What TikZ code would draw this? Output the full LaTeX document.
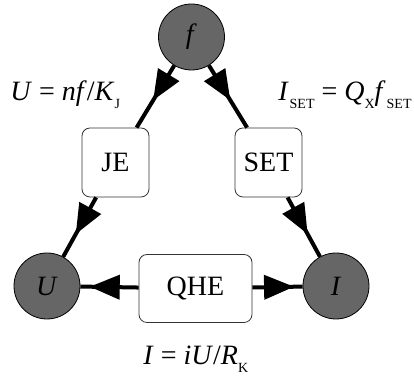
\documentclass[tikz,border=0pt]{standalone}
\usepackage{fontspec}
\setmainfont{Liberation Serif}
\usetikzlibrary{arrows.meta,decorations.markings}
\newcommand{\lowsub}[1]{\raisebox{-4pt}{\fontsize{7}{8}\selectfont #1}}
\tikzset{
  qty/.style={circle, draw, fill=black!60, minimum size=33pt, inner sep=0pt},
  effect/.style={draw=black!80, rounded corners=4pt, fill=white, minimum width=33.5pt, minimum height=34.5pt},
  link/.style={line width=2pt, postaction={decorate},
    decoration={markings, mark=at position #1 with {\arrow{Triangle[length=15pt,width=12pt]}}}},
}
\begin{document}
\begin{tikzpicture}[x=0.5pt, y=-0.5pt, every node/.style={font=\fontsize{14}{16}\selectfont}]
    \useasboundingbox (0,0) rectangle (414,383);
    % quantities
    \node[qty] (f) at (191.5,37) {\textit{f}};
    \node[qty] (U) at (47,286) {\textit{U}};
    \node[qty] (I) at (336,286) {\textit{I}};
    % effects
    \node[effect] (je) at (115.5,162.5) {JE};
    \node[effect] (set) at (268.5,162.5) {SET};
    \node[effect, minimum width=56.5pt, minimum height=34pt] (qhe) at (195.5,288.5) {QHE};
    \draw[link=0.56] (f) -- (je);
    \draw[link=0.62] (je) -- (U);
    \draw[link=0.56] (f) -- (set);
    \draw[link=0.62] (set) -- (I);
    \draw[link=0.84] (qhe) -- (U);
    \draw[link=0.83] (qhe) -- (I);
    % relations
    \node[anchor=base west, inner sep=0pt] (eqje) at (10,101) {\textit{U} = \textit{nf}/\textit{K}\lowsub{J}};
    \node[anchor=base east, inner sep=0pt] (eqset) at (412,101) {\textit{I}\kern0.5pt\lowsub{SET} = \textit{Q}\lowsub{X}\textit{f}\kern0.5pt\lowsub{SET}};
    \node[anchor=base west, inner sep=0pt] (eqqhe) at (143,365) {\textit{I} = \textit{iU}/\textit{R}\lowsub{K}};
\end{tikzpicture}
\end{document}
